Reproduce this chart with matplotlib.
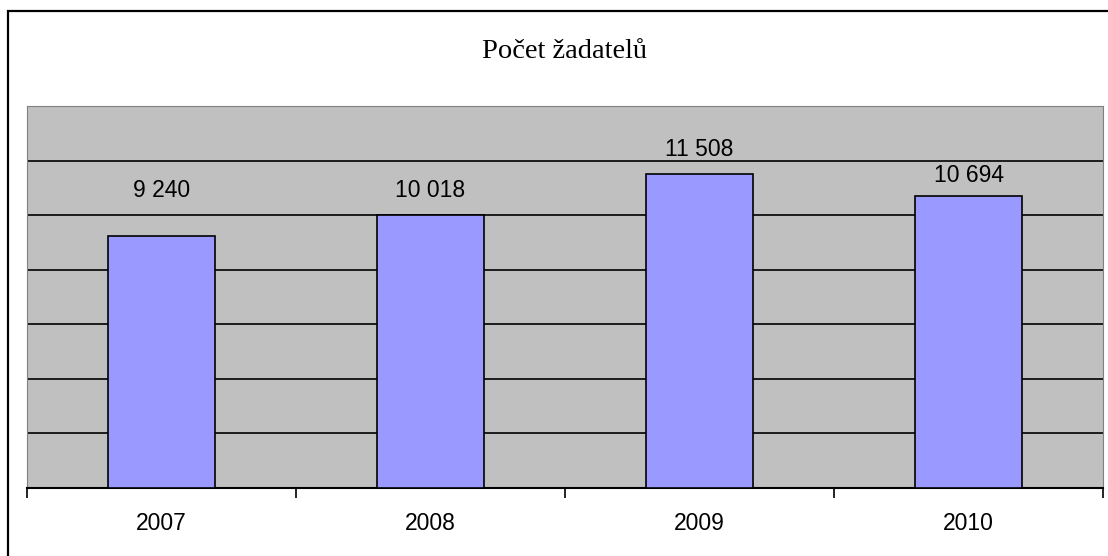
import matplotlib.pyplot as plt
from matplotlib.patches import Rectangle

roky = ['2007', '2008', '2009', '2010']
zadatele = [9240, 10018, 11508, 10694]
label_pad = [45, 24, 24, 21]  # px nad sloupcem, jak v originale

W, H = 1108, 556
fig = plt.figure(figsize=(W / 100, H / 100), dpi=100)
fig.patch.set_facecolor('white')

# ramecek grafu
fig.add_artist(Rectangle((8 / W, -0.05), 1.2, (H - 11) / H + 0.05, transform=fig.transFigure,
                         fill=False, edgecolor='black', linewidth=1.6))

ax = fig.add_axes([27 / W, (H - 488) / H, (1103 - 27) / W, (488 - 106) / H])
ax.set_facecolor('#C0C0C0')
ax.set_xlim(0, len(roky))
ax.set_ylim(0, 14000)
ax.set_yticks(range(0, 14001, 2000))
ax.yaxis.grid(True, color='black', linewidth=1.2)
ax.set_axisbelow(True)
ax.tick_params(axis='y', left=False, labelleft=False)

x = [i + 0.5 for i in range(len(roky))]
ax.bar(x, zadatele, width=0.4, color='#9999FF', edgecolor='black', linewidth=1.2, zorder=3)

ax.set_xticks(range(len(roky) + 1))
ax.set_xticklabels([])
ax.set_xticks(x, minor=True)
ax.set_xticklabels(roky, minor=True, fontsize=16.5, family='Liberation Sans')
ax.tick_params(axis='x', which='major', length=7, width=1.2, color='black')
ax.tick_params(axis='x', which='minor', length=0, pad=17)

for sp in ['left', 'top', 'right']:
    ax.spines[sp].set_color('#808080')
ax.spines['bottom'].set_color('black')
ax.spines['bottom'].set_linewidth(1.5)

for xi, v, p in zip(x, zadatele, label_pad):
    ax.annotate(f"{v:,}".replace(",", " "), (xi, v), xytext=(0, p * 0.72), textcoords='offset points',
                ha='center', va='center', fontsize=16.5, family='Liberation Sans')

fig.text(0.5 + 10 / W, (H - 52) / H, 'Počet žadatelů', ha='center', va='center',
         fontsize=20.5, family='Liberation Serif')

plt.savefig('out.png', dpi=100)
